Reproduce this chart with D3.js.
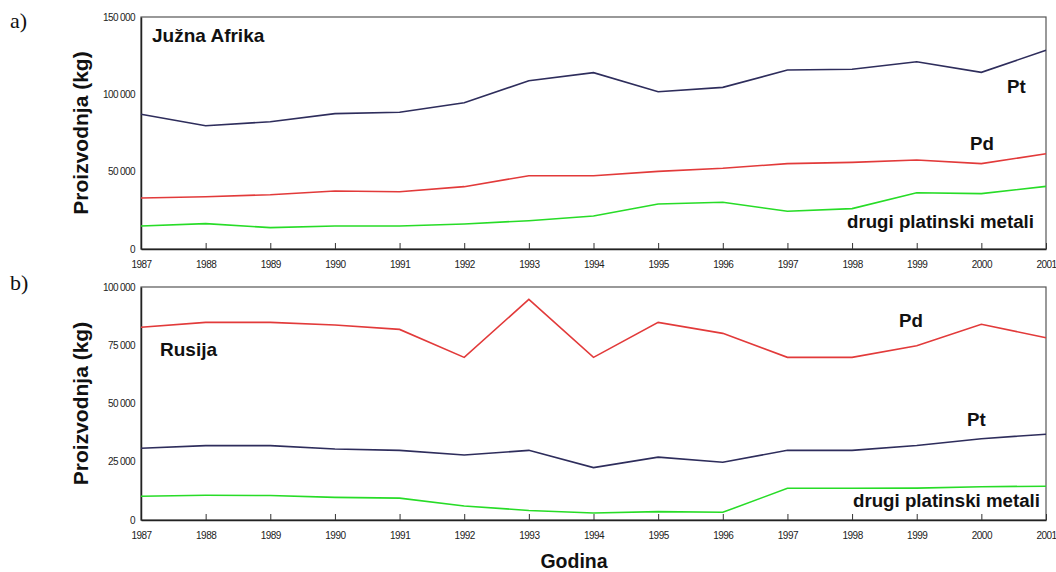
<!DOCTYPE html>
<html>
<head>
<meta charset="utf-8">
<script src="https://cdn.jsdelivr.net/npm/d3@7"></script>
<style>
  body { margin: 0; background: #fff; }
  svg { display: block; font-family: "Liberation Sans", Arial, sans-serif; }
</style>
</head>
<body>
<div id="container"></div>
<script>
const years = d3.range(1987, 2002)

// a) Južna Afrika
const zaPt = [87100, 79700, 82300, 87500, 88400, 94600, 108800, 114000, 101700, 104500, 115700, 116200, 121100, 114200, 128500]
const zaPd = [33000, 33800, 35100, 37500, 37000, 40300, 47400, 47400, 50200, 52200, 55200, 56000, 57500, 55200, 61600]
const zaOther = [14900, 16400, 13800, 14900, 14900, 16200, 18300, 21300, 29100, 30200, 24400, 26100, 36400, 35800, 40500]
const zaTicks = [0, 50000, 100000, 150000]

// b) Rusija
const ruPd = [82700, 84800, 84800, 83700, 81800, 69800, 94700, 69800, 84800, 80100, 69800, 69800, 74800, 84000, 78200]
const ruPt = [30800, 31900, 31900, 30500, 29900, 27900, 29900, 22500, 27000, 24800, 29900, 29900, 32000, 34900, 36800]
const ruOther = [10200, 10600, 10500, 9700, 9400, 6000, 4100, 3000, 3600, 3300, 13600, 13600, 13700, 14300, 14500]
const ruTicks = [0, 25000, 50000, 75000, 100000]

const colors = {Pt: "#2e2d5c", Pd: "#e23a3a", other: "#27dc27"}

const width = 1056
const height = 572

const svg = d3.create("svg")
    .attr("width", width)
    .attr("height", height)

const fmt = v => d3.format(",")(v).replace(/,/g, " ")

const panels = [
    {
        letter: "a)", letterY: 28, name: "Južna Afrika", nameX: 152, nameY: 42,
        top: 17, bottom: 249, max: 150000, ticks: zaTicks,
        series: [
            {key: "Pt", values: zaPt, label: "Pt", lx: 1007, ly: 93},
            {key: "Pd", values: zaPd, label: "Pd", lx: 970, ly: 150},
            {key: "other", values: zaOther, label: "drugi platinski metali", lx: 847, ly: 228}
        ]
    },
    {
        letter: "b)", letterY: 290, name: "Rusija", nameX: 160, nameY: 356,
        top: 287, bottom: 520, max: 100000, ticks: ruTicks,
        series: [
            {key: "Pd", values: ruPd, label: "Pd", lx: 899, ly: 327},
            {key: "Pt", values: ruPt, label: "Pt", lx: 967, ly: 426},
            {key: "other", values: ruOther, label: "drugi platinski metali", lx: 853, ly: 507}
        ]
    }
]

const left = 141
const right = 1046

const x = d3.scaleLinear()
    .domain([1987, 2001])
    .range([left, right])

panels.forEach(p => {
    const y = d3.scaleLinear()
        .domain([0, p.max])
        .range([p.bottom, p.top])

    const g = svg.append("g")

    // frame
    g.append("rect")
        .attr("x", left)
        .attr("y", p.top)
        .attr("width", right - left)
        .attr("height", p.bottom - p.top)
        .attr("fill", "none")
        .attr("stroke", "#555")
        .attr("stroke-width", 1.2)

    // x axis, ticks pointing inwards
    const xAxis = g.append("g")
        .attr("transform", `translate(0, ${p.bottom})`)
        .call(d3.axisBottom(x).tickValues(years).tickFormat(d3.format("d")).tickSizeInner(-6).tickSizeOuter(0).tickPadding(12))
    xAxis.select(".domain").attr("stroke", "#222").attr("stroke-width", 1.5)
    xAxis.selectAll(".tick line").attr("stroke", "#333")
    xAxis.selectAll("text")
        .attr("font-size", 10)
        .attr("fill", "#222")
        .style("letter-spacing", "-0.5px")

    // y axis
    const yAxis = g.append("g")
        .attr("transform", `translate(${left}, 0)`)
        .call(d3.axisLeft(y).tickValues(p.ticks).tickFormat(fmt).tickSize(0).tickPadding(6))
    yAxis.select(".domain").attr("stroke", "#222").attr("stroke-width", 1.5)
    yAxis.selectAll("text")
        .attr("font-size", 10)
        .attr("fill", "#222")
        .style("letter-spacing", "-0.6px")

    const line = d3.line()
        .x((d, i) => x(years[i]))
        .y(d => y(d))

    p.series.forEach(s => {
        g.append("path")
            .datum(s.values)
            .attr("fill", "none")
            .attr("stroke", colors[s.key])
            .attr("stroke-width", 1.6)
            .attr("d", line)

        g.append("text")
            .attr("x", s.lx)
            .attr("y", s.ly)
            .attr("font-size", 18.7)
            .attr("font-weight", "bold")
            .attr("fill", "#111")
            .text(s.label)
    })

    g.append("text")
        .attr("x", p.nameX)
        .attr("y", p.nameY)
        .attr("font-size", 19)
        .attr("font-weight", "bold")
        .attr("fill", "#111")
        .text(p.name)

    g.append("text")
        .attr("x", 10)
        .attr("y", p.letterY)
        .attr("font-family", "Liberation Serif, Times New Roman, serif")
        .attr("font-size", 22)
        .attr("fill", "#111")
        .text(p.letter)

    g.append("text")
        .attr("transform", `translate(88, ${(p.top + p.bottom) / 2}) rotate(-90)`)
        .attr("text-anchor", "middle")
        .attr("font-size", 21)
        .attr("font-weight", "bold")
        .attr("fill", "#111")
        .text("Proizvodnja (kg)")
})

svg.append("text")
    .attr("x", 574)
    .attr("y", 568)
    .attr("text-anchor", "middle")
    .attr("font-size", 19.5)
    .attr("font-weight", "bold")
    .attr("fill", "#111")
    .text("Godina")

document.querySelector("#container").appendChild(svg.node())
</script>
</body>
</html>
